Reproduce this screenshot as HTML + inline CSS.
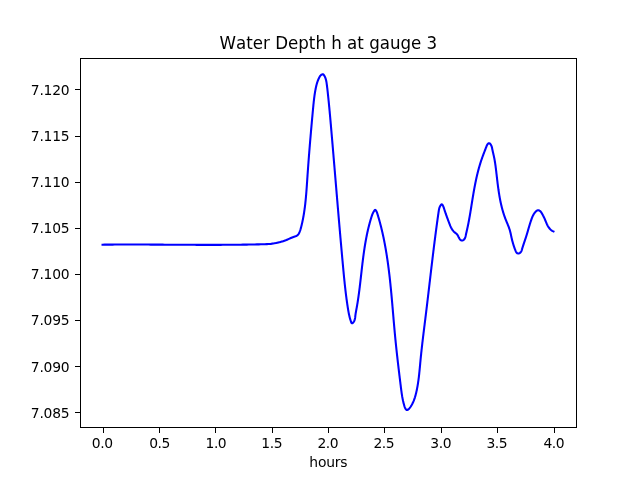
<!DOCTYPE html>
<html><head><meta charset="utf-8"><title>Water Depth h at gauge 3</title>
<style>html,body{margin:0;padding:0;background:#fff;overflow:hidden}svg{display:block}text{font-family:"DejaVu Sans","Liberation Sans",sans-serif;fill:#000}</style></head>
<body>
<svg width="640" height="480" viewBox="0 0 640 480">
<rect width="640" height="480" fill="#fff"/>
<clipPath id="c"><rect x="80" y="58" width="497" height="370"/></clipPath>
<path clip-path="url(#c)" d="M102.55 244.68 L104.55 244.66 L106.56 244.64 L108.56 244.62 L110.56 244.60 L112.57 244.59 L114.57 244.58 L116.57 244.57 L118.57 244.56 L120.58 244.55 L122.58 244.54 L124.58 244.54 L126.59 244.54 L128.59 244.53 L130.59 244.53 L132.60 244.53 L134.60 244.54 L136.60 244.54 L138.61 244.54 L140.61 244.55 L142.61 244.56 L144.62 244.56 L146.62 244.57 L148.62 244.58 L150.63 244.59 L152.63 244.60 L154.63 244.61 L156.64 244.62 L158.64 244.63 L160.64 244.64 L162.65 244.65 L164.65 244.67 L166.65 244.68 L168.66 244.69 L170.66 244.70 L172.66 244.72 L174.67 244.73 L176.67 244.74 L178.67 244.75 L180.68 244.76 L182.68 244.77 L184.68 244.79 L186.69 244.80 L188.69 244.81 L190.69 244.82 L192.70 244.82 L194.70 244.83 L196.71 244.84 L198.71 244.85 L200.71 244.85 L202.72 244.86 L204.72 244.86 L206.72 244.86 L208.72 244.86 L210.73 244.86 L212.73 244.86 L214.73 244.86 L216.74 244.86 L218.74 244.85 L220.74 244.84 L222.75 244.83 L224.75 244.82 L226.75 244.81 L228.76 244.80 L230.76 244.78 L232.76 244.77 L234.76 244.75 L236.77 244.73 L238.77 244.70 L240.77 244.68 L242.78 244.65 L244.78 244.62 L246.78 244.59 L248.78 244.55 L250.79 244.51 L252.79 244.47 L254.79 244.43 L256.79 244.39 L258.80 244.34 L260.80 244.29 L262.80 244.23 L264.80 244.18 L266.80 244.12 L268.81 244.06 L270.81 243.99 L271.49 243.71 L272.19 243.62 L272.88 243.52 L273.57 243.41 L274.26 243.30 L274.95 243.18 L275.64 243.06 L276.33 242.92 L277.02 242.78 L277.70 242.64 L278.39 242.48 L279.07 242.32 L279.75 242.15 L280.43 241.97 L281.10 241.78 L281.77 241.58 L282.44 241.38 L283.11 241.17 L283.78 240.95 L284.44 240.72 L285.09 240.48 L285.75 240.23 L286.40 239.98 L287.04 239.71 L287.69 239.44 L288.33 239.16 L288.96 238.87 L289.60 238.59 L290.24 238.30 L290.88 238.02 L291.52 237.74 L292.17 237.46 L292.83 237.20 L293.49 236.95 L294.16 236.72 L294.83 236.49 L295.50 236.26 L296.15 236.00 L296.77 235.71 L297.33 235.35 L297.84 234.91 L298.29 234.39 L298.69 233.81 L299.03 233.19 L299.35 232.55 L299.63 231.90 L299.89 231.24 L300.13 230.58 L300.35 229.91 L300.56 229.24 L300.75 228.57 L300.94 227.89 L301.11 227.21 L301.29 226.54 L301.46 225.86 L301.62 225.18 L301.78 224.50 L301.94 223.82 L302.10 223.13 L302.25 222.45 L302.40 221.77 L302.54 221.08 L302.68 220.40 L302.82 219.72 L302.96 219.03 L303.09 218.34 L303.22 217.66 L303.34 216.97 L303.47 216.28 L303.59 215.60 L303.71 214.91 L303.82 214.22 L303.93 213.53 L304.04 212.84 L304.15 212.15 L304.25 211.46 L304.35 210.77 L304.45 210.07 L304.55 209.38 L304.64 208.69 L304.74 208.00 L304.83 207.30 L304.92 206.61 L305.00 205.91 L305.09 205.22 L305.17 204.53 L305.25 203.83 L305.33 203.13 L305.40 202.44 L305.48 201.74 L305.55 201.05 L305.62 200.35 L305.69 199.65 L305.76 198.95 L305.82 198.26 L305.89 197.56 L305.95 196.86 L306.01 196.16 L306.08 195.46 L306.14 194.77 L306.19 194.07 L306.25 193.37 L306.31 192.67 L306.36 191.97 L306.42 191.27 L306.47 190.57 L306.52 189.87 L306.58 189.17 L306.63 188.47 L306.68 187.77 L306.73 187.07 L306.78 186.37 L306.83 185.67 L306.88 184.97 L306.92 184.27 L306.97 183.57 L307.02 182.87 L307.07 182.17 L307.12 181.47 L307.16 180.77 L307.21 180.07 L307.26 179.37 L307.30 178.67 L307.35 177.97 L307.40 177.27 L307.45 176.57 L307.49 175.87 L307.54 175.17 L307.59 174.47 L307.64 173.77 L307.69 173.07 L307.74 172.37 L307.79 171.67 L307.84 170.97 L307.89 170.28 L307.94 169.58 L307.99 168.88 L308.04 168.18 L308.09 167.48 L308.14 166.78 L308.19 166.08 L308.24 165.38 L308.29 164.69 L308.34 163.99 L308.40 163.29 L308.45 162.59 L308.50 161.89 L308.55 161.20 L308.61 160.50 L308.66 159.80 L308.71 159.10 L308.77 158.40 L308.82 157.71 L308.87 157.01 L308.93 156.31 L308.98 155.61 L309.04 154.91 L309.09 154.22 L309.15 153.52 L309.20 152.82 L309.26 152.12 L309.31 151.43 L309.37 150.73 L309.43 150.03 L309.48 149.33 L309.54 148.64 L309.60 147.94 L309.65 147.24 L309.71 146.55 L309.77 145.85 L309.82 145.15 L309.88 144.45 L309.94 143.76 L310.00 143.06 L310.06 142.36 L310.11 141.67 L310.17 140.97 L310.23 140.27 L310.29 139.57 L310.35 138.88 L310.41 138.18 L310.47 137.48 L310.53 136.79 L310.59 136.09 L310.65 135.39 L310.71 134.69 L310.77 134.00 L310.83 133.30 L310.89 132.60 L310.95 131.91 L311.01 131.21 L311.07 130.51 L311.13 129.82 L311.19 129.12 L311.26 128.42 L311.32 127.72 L311.38 127.03 L311.44 126.33 L311.50 125.63 L311.57 124.94 L311.63 124.24 L311.69 123.54 L311.75 122.84 L311.82 122.15 L311.88 121.45 L311.94 120.75 L312.01 120.05 L312.07 119.36 L312.13 118.66 L312.20 117.96 L312.26 117.26 L312.33 116.57 L312.39 115.87 L312.46 115.17 L312.52 114.47 L312.58 113.78 L312.65 113.08 L312.71 112.38 L312.78 111.68 L312.84 110.98 L312.91 110.29 L312.98 109.59 L313.04 108.89 L313.11 108.19 L313.17 107.49 L313.24 106.79 L313.31 106.10 L313.37 105.40 L313.44 104.70 L313.51 104.00 L313.59 103.30 L313.66 102.61 L313.73 101.91 L313.81 101.21 L313.89 100.52 L313.97 99.82 L314.05 99.12 L314.13 98.43 L314.22 97.73 L314.31 97.04 L314.40 96.34 L314.50 95.65 L314.60 94.96 L314.70 94.26 L314.80 93.57 L314.91 92.88 L315.03 92.19 L315.14 91.50 L315.26 90.81 L315.39 90.12 L315.52 89.44 L315.65 88.75 L315.79 88.07 L315.94 87.38 L316.09 86.70 L316.24 86.02 L316.41 85.34 L316.58 84.66 L316.76 83.99 L316.95 83.31 L317.16 82.65 L317.37 81.98 L317.60 81.32 L317.85 80.66 L318.10 80.01 L318.38 79.36 L318.67 78.72 L318.97 78.08 L319.30 77.45 L319.65 76.83 L320.02 76.22 L320.44 75.64 L320.94 75.12 L321.53 74.66 L322.20 74.34 L322.86 74.25 L323.40 74.50 L323.85 74.98 L324.24 75.57 L324.59 76.17 L324.91 76.80 L325.19 77.44 L325.44 78.09 L325.67 78.75 L325.87 79.42 L326.04 80.10 L326.20 80.79 L326.34 81.48 L326.47 82.18 L326.58 82.88 L326.68 83.59 L326.78 84.29 L326.87 85.00 L326.96 85.70 L327.05 86.40 L327.13 87.10 L327.22 87.80 L327.30 88.49 L327.38 89.19 L327.46 89.88 L327.54 90.57 L327.61 91.27 L327.69 91.96 L327.77 92.65 L327.84 93.35 L327.92 94.04 L327.99 94.73 L328.06 95.43 L328.14 96.12 L328.21 96.82 L328.28 97.51 L328.35 98.21 L328.43 98.90 L328.50 99.60 L328.57 100.29 L328.64 100.99 L328.71 101.68 L328.78 102.38 L328.85 103.07 L328.91 103.77 L328.98 104.47 L329.05 105.16 L329.12 105.86 L329.18 106.56 L329.25 107.25 L329.32 107.95 L329.38 108.65 L329.45 109.34 L329.52 110.04 L329.58 110.74 L329.65 111.44 L329.71 112.13 L329.77 112.83 L329.84 113.53 L329.90 114.23 L329.97 114.92 L330.03 115.62 L330.09 116.32 L330.16 117.02 L330.22 117.72 L330.28 118.41 L330.34 119.11 L330.41 119.81 L330.47 120.51 L330.53 121.21 L330.59 121.90 L330.65 122.60 L330.71 123.30 L330.78 124.00 L330.84 124.70 L330.90 125.40 L330.96 126.10 L331.02 126.79 L331.08 127.49 L331.14 128.19 L331.20 128.89 L331.26 129.59 L331.32 130.29 L331.38 130.98 L331.44 131.68 L331.50 132.38 L331.56 133.08 L331.62 133.78 L331.68 134.48 L331.74 135.17 L331.80 135.87 L331.86 136.57 L331.92 137.27 L331.98 137.97 L332.04 138.67 L332.10 139.36 L332.16 140.06 L332.22 140.76 L332.28 141.46 L332.34 142.16 L332.40 142.85 L332.46 143.55 L332.52 144.25 L332.58 144.95 L332.64 145.65 L332.70 146.34 L332.76 147.04 L332.82 147.74 L332.88 148.44 L332.93 149.14 L332.99 149.83 L333.05 150.53 L333.11 151.23 L333.17 151.93 L333.23 152.63 L333.29 153.32 L333.35 154.02 L333.41 154.72 L333.47 155.42 L333.53 156.12 L333.58 156.81 L333.64 157.51 L333.70 158.21 L333.76 158.91 L333.82 159.60 L333.88 160.30 L333.94 161.00 L334.00 161.70 L334.06 162.40 L334.11 163.09 L334.17 163.79 L334.23 164.49 L334.29 165.19 L334.35 165.88 L334.41 166.58 L334.47 167.28 L334.52 167.98 L334.58 168.67 L334.64 169.37 L334.70 170.07 L334.76 170.77 L334.82 171.46 L334.88 172.16 L334.93 172.86 L334.99 173.56 L335.05 174.26 L335.11 174.95 L335.17 175.65 L335.23 176.35 L335.29 177.05 L335.34 177.74 L335.40 178.44 L335.46 179.14 L335.52 179.84 L335.58 180.53 L335.64 181.23 L335.70 181.93 L335.75 182.63 L335.81 183.32 L335.87 184.02 L335.93 184.72 L335.99 185.42 L336.05 186.11 L336.11 186.81 L336.16 187.51 L336.22 188.21 L336.28 188.90 L336.34 189.60 L336.40 190.30 L336.46 191.00 L336.52 191.69 L336.57 192.39 L336.63 193.09 L336.69 193.79 L336.75 194.48 L336.81 195.18 L336.87 195.88 L336.93 196.58 L336.99 197.27 L337.04 197.97 L337.10 198.67 L337.16 199.37 L337.22 200.06 L337.28 200.76 L337.34 201.46 L337.40 202.16 L337.46 202.85 L337.52 203.55 L337.57 204.25 L337.63 204.94 L337.69 205.64 L337.75 206.34 L337.81 207.04 L337.87 207.73 L337.93 208.43 L337.99 209.13 L338.05 209.83 L338.11 210.52 L338.17 211.22 L338.23 211.92 L338.29 212.62 L338.34 213.32 L338.40 214.01 L338.46 214.71 L338.52 215.41 L338.58 216.11 L338.64 216.80 L338.70 217.50 L338.76 218.20 L338.82 218.90 L338.88 219.59 L338.94 220.29 L339.00 220.99 L339.06 221.69 L339.12 222.38 L339.18 223.08 L339.24 223.78 L339.30 224.48 L339.36 225.17 L339.42 225.87 L339.48 226.57 L339.54 227.27 L339.60 227.96 L339.66 228.66 L339.72 229.36 L339.78 230.06 L339.84 230.76 L339.91 231.45 L339.97 232.15 L340.03 232.85 L340.09 233.55 L340.15 234.24 L340.21 234.94 L340.27 235.64 L340.33 236.34 L340.39 237.04 L340.45 237.73 L340.52 238.43 L340.58 239.13 L340.64 239.83 L340.70 240.53 L340.76 241.22 L340.82 241.92 L340.88 242.62 L340.95 243.32 L341.01 244.01 L341.07 244.71 L341.13 245.41 L341.19 246.11 L341.26 246.81 L341.32 247.50 L341.38 248.20 L341.44 248.90 L341.50 249.60 L341.57 250.30 L341.63 251.00 L341.69 251.69 L341.76 252.39 L341.82 253.09 L341.88 253.79 L341.94 254.49 L342.01 255.18 L342.07 255.88 L342.13 256.58 L342.20 257.28 L342.26 257.98 L342.32 258.68 L342.39 259.37 L342.45 260.07 L342.51 260.77 L342.58 261.47 L342.64 262.17 L342.71 262.87 L342.77 263.56 L342.83 264.26 L342.90 264.96 L342.96 265.66 L343.03 266.36 L343.09 267.06 L343.16 267.76 L343.22 268.45 L343.29 269.15 L343.35 269.85 L343.42 270.55 L343.48 271.25 L343.55 271.95 L343.62 272.64 L343.68 273.34 L343.75 274.04 L343.82 274.74 L343.88 275.44 L343.95 276.14 L344.02 276.83 L344.09 277.53 L344.16 278.23 L344.23 278.93 L344.30 279.62 L344.37 280.32 L344.44 281.02 L344.51 281.71 L344.59 282.41 L344.66 283.11 L344.73 283.80 L344.81 284.50 L344.88 285.20 L344.96 285.89 L345.04 286.59 L345.11 287.28 L345.19 287.98 L345.27 288.67 L345.35 289.37 L345.43 290.06 L345.51 290.76 L345.59 291.45 L345.67 292.15 L345.76 292.84 L345.84 293.53 L345.93 294.23 L346.01 294.92 L346.10 295.61 L346.19 296.30 L346.28 296.99 L346.37 297.69 L346.46 298.38 L346.55 299.07 L346.65 299.76 L346.74 300.45 L346.84 301.14 L346.93 301.83 L347.03 302.52 L347.13 303.20 L347.23 303.89 L347.33 304.58 L347.44 305.27 L347.54 305.95 L347.64 306.64 L347.75 307.33 L347.86 308.01 L347.97 308.70 L348.08 309.38 L348.19 310.07 L348.31 310.75 L348.43 311.44 L348.56 312.13 L348.69 312.82 L348.82 313.51 L348.96 314.20 L349.11 314.89 L349.27 315.59 L349.43 316.29 L349.60 316.99 L349.78 317.69 L349.97 318.40 L350.17 319.11 L350.38 319.82 L350.60 320.54 L350.84 321.27 L351.08 321.98 L351.36 322.62 L351.68 323.10 L352.06 323.31 L352.51 323.18 L353.01 322.77 L353.51 322.16 L353.97 321.44 L354.34 320.71 L354.63 320.00 L354.84 319.31 L354.99 318.62 L355.10 317.94 L355.19 317.27 L355.26 316.60 L355.33 315.92 L355.41 315.25 L355.50 314.57 L355.60 313.88 L355.71 313.20 L355.83 312.51 L355.95 311.82 L356.07 311.13 L356.20 310.43 L356.32 309.74 L356.45 309.05 L356.58 308.35 L356.71 307.66 L356.83 306.96 L356.95 306.27 L357.08 305.57 L357.19 304.88 L357.31 304.19 L357.43 303.49 L357.54 302.80 L357.65 302.11 L357.76 301.41 L357.87 300.72 L357.98 300.03 L358.08 299.34 L358.18 298.64 L358.29 297.95 L358.39 297.26 L358.48 296.57 L358.58 295.88 L358.68 295.18 L358.77 294.49 L358.87 293.80 L358.96 293.11 L359.05 292.41 L359.14 291.72 L359.23 291.03 L359.32 290.33 L359.41 289.64 L359.50 288.95 L359.58 288.25 L359.67 287.56 L359.75 286.87 L359.84 286.17 L359.92 285.48 L360.00 284.78 L360.08 284.09 L360.17 283.39 L360.25 282.70 L360.33 282.00 L360.41 281.31 L360.49 280.61 L360.57 279.92 L360.65 279.22 L360.73 278.52 L360.81 277.83 L360.88 277.13 L360.96 276.43 L361.04 275.74 L361.12 275.04 L361.20 274.35 L361.28 273.65 L361.36 272.95 L361.44 272.26 L361.51 271.56 L361.59 270.86 L361.67 270.16 L361.75 269.47 L361.83 268.77 L361.91 268.07 L361.99 267.38 L362.07 266.68 L362.15 265.98 L362.24 265.29 L362.32 264.59 L362.40 263.90 L362.48 263.20 L362.57 262.50 L362.65 261.81 L362.74 261.11 L362.83 260.41 L362.91 259.72 L363.00 259.02 L363.09 258.33 L363.18 257.63 L363.27 256.94 L363.36 256.24 L363.45 255.55 L363.55 254.85 L363.64 254.16 L363.74 253.46 L363.83 252.77 L363.93 252.08 L364.03 251.38 L364.13 250.69 L364.23 250.00 L364.34 249.30 L364.44 248.61 L364.55 247.92 L364.65 247.23 L364.76 246.53 L364.87 245.84 L364.98 245.15 L365.10 244.46 L365.21 243.77 L365.33 243.08 L365.45 242.39 L365.57 241.70 L365.69 241.01 L365.82 240.32 L365.94 239.64 L366.07 238.95 L366.20 238.26 L366.33 237.57 L366.47 236.89 L366.60 236.20 L366.74 235.52 L366.88 234.83 L367.02 234.15 L367.17 233.46 L367.31 232.78 L367.46 232.09 L367.61 231.41 L367.77 230.73 L367.92 230.05 L368.08 229.37 L368.24 228.69 L368.41 228.00 L368.57 227.33 L368.74 226.65 L368.92 225.97 L369.09 225.29 L369.27 224.61 L369.45 223.94 L369.63 223.26 L369.81 222.58 L370.00 221.91 L370.19 221.23 L370.39 220.56 L370.58 219.89 L370.78 219.22 L370.99 218.54 L371.19 217.87 L371.40 217.20 L371.61 216.53 L371.83 215.87 L372.06 215.20 L372.30 214.54 L372.56 213.89 L372.85 213.24 L373.16 212.61 L373.49 211.98 L373.87 211.37 L374.28 210.77 L374.73 210.21 L375.19 209.89 L375.63 210.03 L376.03 210.53 L376.38 211.16 L376.69 211.82 L376.95 212.48 L377.19 213.15 L377.40 213.82 L377.61 214.49 L377.82 215.16 L378.02 215.84 L378.22 216.51 L378.42 217.18 L378.62 217.86 L378.82 218.53 L379.01 219.21 L379.20 219.89 L379.39 220.56 L379.58 221.24 L379.76 221.92 L379.95 222.59 L380.13 223.27 L380.31 223.95 L380.48 224.63 L380.66 225.31 L380.83 225.99 L381.01 226.67 L381.18 227.35 L381.34 228.03 L381.51 228.71 L381.68 229.39 L381.84 230.07 L382.00 230.76 L382.16 231.44 L382.32 232.12 L382.47 232.80 L382.63 233.49 L382.78 234.17 L382.93 234.86 L383.08 235.54 L383.23 236.22 L383.37 236.91 L383.52 237.59 L383.66 238.28 L383.80 238.97 L383.94 239.65 L384.08 240.34 L384.22 241.02 L384.35 241.71 L384.48 242.40 L384.62 243.09 L384.75 243.77 L384.88 244.46 L385.01 245.15 L385.13 245.84 L385.26 246.52 L385.38 247.21 L385.50 247.90 L385.63 248.59 L385.75 249.28 L385.86 249.97 L385.98 250.66 L386.10 251.35 L386.21 252.04 L386.33 252.73 L386.44 253.42 L386.55 254.11 L386.66 254.80 L386.77 255.49 L386.88 256.18 L386.98 256.87 L387.09 257.56 L387.19 258.26 L387.30 258.95 L387.40 259.64 L387.50 260.33 L387.60 261.02 L387.70 261.72 L387.80 262.41 L387.89 263.10 L387.99 263.79 L388.08 264.49 L388.18 265.18 L388.27 265.87 L388.36 266.57 L388.45 267.26 L388.54 267.95 L388.63 268.65 L388.72 269.34 L388.81 270.04 L388.89 270.73 L388.98 271.43 L389.07 272.12 L389.15 272.81 L389.23 273.51 L389.31 274.20 L389.40 274.90 L389.48 275.59 L389.56 276.29 L389.64 276.99 L389.71 277.68 L389.79 278.38 L389.87 279.07 L389.95 279.77 L390.02 280.46 L390.10 281.16 L390.17 281.86 L390.24 282.55 L390.32 283.25 L390.39 283.95 L390.46 284.64 L390.53 285.34 L390.60 286.04 L390.67 286.73 L390.74 287.43 L390.81 288.13 L390.88 288.82 L390.95 289.52 L391.02 290.22 L391.08 290.91 L391.15 291.61 L391.22 292.31 L391.28 293.01 L391.35 293.70 L391.41 294.40 L391.48 295.10 L391.54 295.80 L391.61 296.50 L391.67 297.19 L391.73 297.89 L391.80 298.59 L391.86 299.29 L391.92 299.99 L391.98 300.68 L392.04 301.38 L392.11 302.08 L392.17 302.78 L392.23 303.48 L392.29 304.17 L392.35 304.87 L392.41 305.57 L392.47 306.27 L392.53 306.97 L392.59 307.67 L392.65 308.36 L392.71 309.06 L392.77 309.76 L392.83 310.46 L392.89 311.16 L392.95 311.86 L393.01 312.56 L393.07 313.25 L393.13 313.95 L393.19 314.65 L393.25 315.35 L393.31 316.05 L393.37 316.75 L393.43 317.44 L393.48 318.14 L393.54 318.84 L393.60 319.54 L393.66 320.24 L393.72 320.94 L393.78 321.63 L393.85 322.33 L393.91 323.03 L393.97 323.73 L394.03 324.43 L394.09 325.13 L394.15 325.82 L394.21 326.52 L394.27 327.22 L394.34 327.92 L394.40 328.62 L394.46 329.31 L394.52 330.01 L394.59 330.71 L394.65 331.41 L394.72 332.11 L394.78 332.80 L394.85 333.50 L394.91 334.20 L394.98 334.90 L395.04 335.59 L395.11 336.29 L395.18 336.99 L395.24 337.69 L395.31 338.38 L395.38 339.08 L395.45 339.78 L395.52 340.47 L395.59 341.17 L395.66 341.87 L395.73 342.56 L395.80 343.26 L395.87 343.96 L395.94 344.65 L396.01 345.35 L396.09 346.05 L396.16 346.74 L396.23 347.44 L396.31 348.14 L396.38 348.83 L396.46 349.53 L396.53 350.23 L396.61 350.92 L396.68 351.62 L396.76 352.31 L396.83 353.01 L396.91 353.70 L396.99 354.40 L397.06 355.10 L397.14 355.79 L397.22 356.49 L397.30 357.18 L397.38 357.88 L397.46 358.57 L397.53 359.27 L397.61 359.97 L397.69 360.66 L397.77 361.36 L397.85 362.05 L397.93 362.75 L398.01 363.44 L398.10 364.14 L398.18 364.83 L398.26 365.53 L398.34 366.22 L398.42 366.92 L398.50 367.61 L398.59 368.31 L398.67 369.00 L398.75 369.70 L398.83 370.39 L398.92 371.09 L399.00 371.78 L399.08 372.48 L399.17 373.17 L399.25 373.87 L399.34 374.56 L399.42 375.26 L399.50 375.95 L399.59 376.64 L399.67 377.34 L399.76 378.03 L399.84 378.73 L399.93 379.42 L400.01 380.12 L400.10 380.81 L400.18 381.51 L400.27 382.20 L400.35 382.90 L400.44 383.59 L400.53 384.29 L400.61 384.98 L400.70 385.67 L400.78 386.37 L400.87 387.06 L400.96 387.76 L401.04 388.45 L401.13 389.15 L401.22 389.84 L401.31 390.53 L401.40 391.23 L401.50 391.92 L401.59 392.61 L401.69 393.31 L401.80 394.00 L401.90 394.69 L402.01 395.38 L402.13 396.07 L402.24 396.76 L402.37 397.45 L402.49 398.14 L402.62 398.83 L402.76 399.52 L402.91 400.21 L403.05 400.89 L403.21 401.58 L403.37 402.26 L403.54 402.95 L403.72 403.63 L403.90 404.31 L404.09 404.99 L404.29 405.67 L404.50 406.35 L404.72 407.03 L404.96 407.70 L405.24 408.35 L405.60 408.97 L406.05 409.53 L406.58 409.95 L407.16 410.06 L407.73 409.83 L408.29 409.41 L408.81 408.93 L409.29 408.42 L409.75 407.88 L410.18 407.32 L410.59 406.74 L410.98 406.15 L411.35 405.55 L411.71 404.94 L412.05 404.33 L412.38 403.71 L412.69 403.09 L412.99 402.46 L413.28 401.82 L413.56 401.18 L413.82 400.53 L414.07 399.88 L414.31 399.22 L414.54 398.56 L414.76 397.90 L414.98 397.23 L415.18 396.56 L415.37 395.88 L415.56 395.21 L415.74 394.53 L415.91 393.85 L416.08 393.17 L416.24 392.48 L416.40 391.80 L416.55 391.12 L416.70 390.43 L416.84 389.74 L416.98 389.06 L417.11 388.37 L417.24 387.68 L417.37 386.99 L417.49 386.31 L417.61 385.62 L417.73 384.93 L417.84 384.24 L417.95 383.55 L418.06 382.85 L418.16 382.16 L418.26 381.47 L418.36 380.78 L418.45 380.09 L418.54 379.39 L418.63 378.70 L418.72 378.01 L418.81 377.31 L418.89 376.62 L418.97 375.92 L419.05 375.23 L419.13 374.53 L419.20 373.84 L419.28 373.14 L419.35 372.45 L419.42 371.75 L419.49 371.05 L419.56 370.36 L419.63 369.66 L419.70 368.96 L419.76 368.27 L419.83 367.57 L419.89 366.87 L419.96 366.18 L420.02 365.48 L420.09 364.78 L420.15 364.08 L420.22 363.39 L420.28 362.69 L420.35 361.99 L420.41 361.29 L420.48 360.60 L420.55 359.90 L420.61 359.20 L420.68 358.50 L420.75 357.81 L420.82 357.11 L420.89 356.41 L420.96 355.71 L421.04 355.02 L421.11 354.32 L421.18 353.62 L421.25 352.93 L421.33 352.23 L421.40 351.53 L421.48 350.84 L421.55 350.14 L421.63 349.44 L421.71 348.75 L421.79 348.05 L421.86 347.35 L421.94 346.66 L422.02 345.96 L422.10 345.26 L422.18 344.57 L422.26 343.87 L422.34 343.17 L422.42 342.48 L422.50 341.78 L422.59 341.08 L422.67 340.39 L422.75 339.69 L422.83 339.00 L422.92 338.30 L423.00 337.60 L423.08 336.91 L423.17 336.21 L423.25 335.52 L423.34 334.82 L423.42 334.12 L423.51 333.43 L423.59 332.73 L423.68 332.04 L423.76 331.34 L423.85 330.64 L423.93 329.95 L424.02 329.25 L424.11 328.56 L424.19 327.86 L424.28 327.17 L424.37 326.47 L424.45 325.78 L424.54 325.08 L424.63 324.38 L424.71 323.69 L424.80 322.99 L424.89 322.30 L424.97 321.60 L425.06 320.91 L425.15 320.21 L425.23 319.52 L425.32 318.82 L425.40 318.13 L425.49 317.43 L425.58 316.74 L425.66 316.04 L425.75 315.35 L425.83 314.65 L425.92 313.96 L426.00 313.26 L426.09 312.57 L426.17 311.87 L426.26 311.18 L426.34 310.48 L426.43 309.79 L426.51 309.09 L426.60 308.40 L426.68 307.70 L426.76 307.01 L426.85 306.31 L426.93 305.62 L427.01 304.92 L427.10 304.23 L427.18 303.53 L427.26 302.84 L427.35 302.14 L427.43 301.45 L427.51 300.75 L427.60 300.06 L427.68 299.36 L427.76 298.67 L427.84 297.97 L427.93 297.28 L428.01 296.58 L428.09 295.89 L428.17 295.20 L428.25 294.50 L428.34 293.81 L428.42 293.11 L428.50 292.42 L428.58 291.72 L428.66 291.03 L428.75 290.33 L428.83 289.64 L428.91 288.94 L428.99 288.25 L429.07 287.55 L429.15 286.86 L429.24 286.17 L429.32 285.47 L429.40 284.78 L429.48 284.08 L429.56 283.39 L429.64 282.69 L429.72 282.00 L429.81 281.30 L429.89 280.61 L429.97 279.91 L430.05 279.22 L430.13 278.52 L430.21 277.83 L430.30 277.13 L430.38 276.44 L430.46 275.75 L430.54 275.05 L430.62 274.36 L430.70 273.66 L430.79 272.97 L430.87 272.27 L430.95 271.58 L431.03 270.88 L431.11 270.19 L431.20 269.49 L431.28 268.80 L431.36 268.10 L431.44 267.41 L431.53 266.71 L431.61 266.02 L431.69 265.32 L431.77 264.63 L431.86 263.93 L431.94 263.24 L432.02 262.54 L432.11 261.85 L432.19 261.15 L432.27 260.46 L432.36 259.76 L432.44 259.07 L432.52 258.37 L432.61 257.68 L432.69 256.98 L432.78 256.29 L432.86 255.59 L432.94 254.90 L433.03 254.20 L433.11 253.51 L433.20 252.81 L433.28 252.12 L433.37 251.42 L433.45 250.73 L433.54 250.03 L433.63 249.34 L433.71 248.64 L433.80 247.95 L433.88 247.25 L433.97 246.55 L434.06 245.86 L434.14 245.16 L434.23 244.47 L434.32 243.77 L434.41 243.08 L434.49 242.38 L434.58 241.69 L434.67 240.99 L434.76 240.29 L434.85 239.60 L434.94 238.90 L435.03 238.21 L435.12 237.51 L435.21 236.81 L435.29 236.12 L435.39 235.42 L435.48 234.73 L435.57 234.03 L435.66 233.33 L435.75 232.64 L435.84 231.94 L435.93 231.24 L436.02 230.55 L436.12 229.85 L436.21 229.16 L436.30 228.46 L436.39 227.76 L436.49 227.07 L436.58 226.37 L436.68 225.67 L436.77 224.98 L436.87 224.28 L436.96 223.58 L437.06 222.88 L437.15 222.19 L437.25 221.49 L437.34 220.79 L437.44 220.10 L437.54 219.40 L437.63 218.70 L437.73 218.00 L437.83 217.31 L437.93 216.61 L438.03 215.91 L438.13 215.22 L438.23 214.52 L438.33 213.82 L438.43 213.12 L438.53 212.42 L438.63 211.73 L438.73 211.03 L438.84 210.34 L438.97 209.65 L439.11 208.97 L439.28 208.30 L439.48 207.65 L439.72 207.01 L440.00 206.39 L440.33 205.80 L440.71 205.23 L441.16 204.69 L441.64 204.35 L442.12 204.47 L442.57 204.97 L442.95 205.64 L443.27 206.33 L443.54 207.01 L443.77 207.69 L443.99 208.37 L444.20 209.05 L444.42 209.73 L444.64 210.40 L444.87 211.07 L445.09 211.74 L445.32 212.40 L445.55 213.07 L445.77 213.73 L446.01 214.39 L446.24 215.05 L446.47 215.71 L446.71 216.36 L446.95 217.02 L447.18 217.67 L447.42 218.33 L447.66 218.98 L447.91 219.64 L448.15 220.29 L448.39 220.95 L448.64 221.60 L448.88 222.26 L449.13 222.91 L449.38 223.57 L449.63 224.23 L449.89 224.88 L450.15 225.53 L450.42 226.17 L450.71 226.81 L451.01 227.44 L451.33 228.05 L451.66 228.66 L452.02 229.25 L452.41 229.82 L452.81 230.38 L453.25 230.91 L453.72 231.43 L454.22 231.92 L454.76 232.38 L455.32 232.84 L455.87 233.29 L456.41 233.74 L456.91 234.22 L457.36 234.74 L457.73 235.29 L458.06 235.89 L458.35 236.52 L458.65 237.18 L458.98 237.86 L459.36 238.53 L459.79 239.17 L460.27 239.72 L460.80 240.17 L461.38 240.45 L461.99 240.55 L462.64 240.43 L463.28 240.15 L463.84 239.74 L464.32 239.24 L464.70 238.67 L465.01 238.05 L465.26 237.38 L465.46 236.68 L465.64 235.96 L465.80 235.23 L465.96 234.51 L466.11 233.80 L466.27 233.10 L466.43 232.40 L466.59 231.71 L466.75 231.02 L466.90 230.34 L467.06 229.66 L467.21 228.98 L467.36 228.30 L467.51 227.62 L467.66 226.94 L467.80 226.26 L467.94 225.58 L468.08 224.90 L468.22 224.21 L468.36 223.53 L468.49 222.85 L468.62 222.17 L468.75 221.48 L468.88 220.80 L469.01 220.11 L469.14 219.43 L469.26 218.74 L469.39 218.06 L469.51 217.37 L469.63 216.68 L469.75 216.00 L469.87 215.31 L469.98 214.62 L470.10 213.93 L470.22 213.24 L470.33 212.55 L470.44 211.86 L470.56 211.18 L470.67 210.49 L470.78 209.80 L470.89 209.11 L471.01 208.41 L471.12 207.72 L471.23 207.03 L471.34 206.34 L471.45 205.65 L471.56 204.96 L471.67 204.27 L471.78 203.57 L471.89 202.88 L472.00 202.19 L472.11 201.50 L472.22 200.80 L472.34 200.11 L472.45 199.42 L472.56 198.72 L472.68 198.03 L472.79 197.34 L472.90 196.64 L473.02 195.95 L473.14 195.26 L473.25 194.56 L473.37 193.87 L473.49 193.18 L473.61 192.49 L473.73 191.79 L473.85 191.10 L473.98 190.41 L474.10 189.72 L474.23 189.02 L474.35 188.33 L474.48 187.64 L474.61 186.95 L474.74 186.26 L474.87 185.57 L475.01 184.88 L475.14 184.19 L475.28 183.50 L475.42 182.81 L475.56 182.13 L475.70 181.44 L475.84 180.75 L475.99 180.07 L476.13 179.38 L476.28 178.70 L476.43 178.01 L476.59 177.33 L476.74 176.65 L476.90 175.96 L477.06 175.28 L477.22 174.60 L477.39 173.92 L477.55 173.24 L477.72 172.57 L477.89 171.89 L478.06 171.21 L478.24 170.54 L478.42 169.86 L478.60 169.19 L478.78 168.52 L478.97 167.84 L479.16 167.17 L479.35 166.51 L479.55 165.84 L479.74 165.17 L479.95 164.50 L480.15 163.84 L480.36 163.18 L480.57 162.51 L480.78 161.85 L480.99 161.19 L481.21 160.53 L481.44 159.88 L481.66 159.22 L481.89 158.57 L482.12 157.91 L482.36 157.26 L482.60 156.60 L482.84 155.95 L483.08 155.29 L483.32 154.64 L483.57 153.98 L483.82 153.32 L484.07 152.66 L484.32 152.00 L484.58 151.33 L484.83 150.67 L485.09 150.00 L485.35 149.32 L485.61 148.64 L485.87 147.96 L486.13 147.28 L486.40 146.59 L486.67 145.91 L486.96 145.25 L487.28 144.65 L487.65 144.11 L488.07 143.65 L488.55 143.30 L489.09 143.17 L489.65 143.39 L490.19 143.85 L490.67 144.46 L491.07 145.11 L491.39 145.77 L491.65 146.44 L491.85 147.12 L492.02 147.81 L492.16 148.50 L492.29 149.19 L492.43 149.88 L492.58 150.57 L492.73 151.26 L492.89 151.95 L493.04 152.63 L493.20 153.32 L493.36 154.00 L493.52 154.68 L493.68 155.37 L493.83 156.05 L493.98 156.74 L494.12 157.42 L494.26 158.11 L494.39 158.79 L494.52 159.48 L494.64 160.17 L494.76 160.86 L494.87 161.54 L494.98 162.23 L495.09 162.92 L495.20 163.61 L495.30 164.30 L495.40 164.99 L495.49 165.68 L495.59 166.38 L495.68 167.07 L495.77 167.76 L495.86 168.45 L495.94 169.14 L496.03 169.84 L496.11 170.53 L496.19 171.23 L496.27 171.92 L496.35 172.62 L496.44 173.31 L496.52 174.01 L496.60 174.70 L496.68 175.40 L496.76 176.09 L496.84 176.79 L496.92 177.49 L497.00 178.18 L497.08 178.88 L497.16 179.58 L497.24 180.28 L497.33 180.97 L497.41 181.67 L497.50 182.37 L497.58 183.07 L497.67 183.76 L497.76 184.46 L497.84 185.16 L497.93 185.86 L498.03 186.55 L498.12 187.25 L498.21 187.94 L498.31 188.64 L498.41 189.34 L498.50 190.03 L498.61 190.73 L498.71 191.42 L498.81 192.12 L498.92 192.81 L499.03 193.50 L499.14 194.20 L499.25 194.89 L499.37 195.58 L499.49 196.27 L499.61 196.96 L499.73 197.65 L499.86 198.34 L499.99 199.03 L500.12 199.71 L500.25 200.40 L500.39 201.09 L500.53 201.77 L500.68 202.46 L500.82 203.14 L500.97 203.82 L501.13 204.50 L501.29 205.18 L501.45 205.86 L501.61 206.54 L501.78 207.22 L501.95 207.89 L502.13 208.57 L502.31 209.24 L502.49 209.91 L502.68 210.59 L502.88 211.25 L503.07 211.92 L503.28 212.59 L503.48 213.26 L503.69 213.92 L503.91 214.58 L504.13 215.25 L504.35 215.91 L504.58 216.56 L504.82 217.22 L505.06 217.88 L505.30 218.53 L505.55 219.18 L505.81 219.83 L506.07 220.48 L506.34 221.13 L506.60 221.78 L506.87 222.43 L507.14 223.07 L507.41 223.72 L507.68 224.37 L507.94 225.02 L508.20 225.67 L508.46 226.33 L508.71 226.98 L508.96 227.65 L509.19 228.31 L509.42 228.98 L509.64 229.65 L509.84 230.33 L510.04 231.01 L510.22 231.70 L510.39 232.39 L510.55 233.08 L510.71 233.78 L510.86 234.47 L511.00 235.16 L511.15 235.85 L511.29 236.54 L511.44 237.21 L511.59 237.89 L511.74 238.55 L511.90 239.22 L512.06 239.88 L512.22 240.53 L512.39 241.19 L512.57 241.85 L512.75 242.50 L512.94 243.16 L513.13 243.82 L513.33 244.48 L513.54 245.14 L513.76 245.81 L513.98 246.48 L514.21 247.17 L514.45 247.85 L514.70 248.55 L514.96 249.26 L515.23 249.97 L515.51 250.69 L515.81 251.38 L516.14 252.02 L516.52 252.59 L516.95 253.04 L517.44 253.36 L518.00 253.51 L518.64 253.47 L519.31 253.25 L519.97 252.89 L520.53 252.42 L520.97 251.85 L521.32 251.23 L521.60 250.56 L521.83 249.86 L522.04 249.16 L522.24 248.47 L522.45 247.80 L522.66 247.12 L522.87 246.46 L523.09 245.80 L523.30 245.14 L523.52 244.49 L523.73 243.84 L523.95 243.18 L524.18 242.52 L524.40 241.86 L524.63 241.20 L524.85 240.54 L525.07 239.87 L525.30 239.21 L525.52 238.54 L525.74 237.87 L525.95 237.20 L526.17 236.54 L526.38 235.87 L526.58 235.19 L526.79 234.52 L526.99 233.85 L527.19 233.18 L527.39 232.51 L527.59 231.84 L527.78 231.16 L527.98 230.49 L528.17 229.82 L528.37 229.15 L528.57 228.48 L528.76 227.80 L528.96 227.13 L529.16 226.46 L529.36 225.79 L529.56 225.12 L529.76 224.45 L529.97 223.78 L530.18 223.12 L530.39 222.45 L530.61 221.78 L530.83 221.12 L531.06 220.46 L531.29 219.79 L531.52 219.13 L531.76 218.47 L532.01 217.82 L532.27 217.17 L532.55 216.53 L532.85 215.89 L533.16 215.27 L533.49 214.65 L533.85 214.05 L534.23 213.46 L534.65 212.89 L535.09 212.33 L535.57 211.79 L536.08 211.28 L536.63 210.82 L537.21 210.47 L537.84 210.28 L538.50 210.30 L539.17 210.51 L539.80 210.87 L540.35 211.31 L540.83 211.82 L541.26 212.38 L541.65 212.99 L542.01 213.61 L542.35 214.24 L542.69 214.85 L543.01 215.47 L543.34 216.07 L543.65 216.68 L543.96 217.30 L544.25 217.91 L544.54 218.54 L544.82 219.18 L545.09 219.83 L545.36 220.49 L545.63 221.14 L545.90 221.80 L546.18 222.46 L546.46 223.12 L546.74 223.77 L547.04 224.42 L547.35 225.05 L547.67 225.68 L548.01 226.29 L548.37 226.88 L548.75 227.46 L549.15 228.02 L549.58 228.55 L550.04 229.06 L550.52 229.54 L551.04 230.00 L551.60 230.42 L552.19 230.81 L552.82 231.16 L553.49 231.48" fill="none" stroke="#0000ff" stroke-width="2.08" stroke-linejoin="round" stroke-linecap="square"/>
<g stroke="#000" stroke-width="1.1" fill="none" shape-rendering="crispEdges">
<line x1="103.5" y1="427.5" x2="103.5" y2="432.9"/>
<line x1="159.5" y1="427.5" x2="159.5" y2="432.9"/>
<line x1="215.5" y1="427.5" x2="215.5" y2="432.9"/>
<line x1="272.5" y1="427.5" x2="272.5" y2="432.9"/>
<line x1="328.5" y1="427.5" x2="328.5" y2="432.9"/>
<line x1="384.5" y1="427.5" x2="384.5" y2="432.9"/>
<line x1="441.5" y1="427.5" x2="441.5" y2="432.9"/>
<line x1="497.5" y1="427.5" x2="497.5" y2="432.9"/>
<line x1="554.5" y1="427.5" x2="554.5" y2="432.9"/>
<line x1="75.1" y1="412.5" x2="80.5" y2="412.5"/>
<line x1="75.1" y1="366.5" x2="80.5" y2="366.5"/>
<line x1="75.1" y1="320.5" x2="80.5" y2="320.5"/>
<line x1="75.1" y1="274.5" x2="80.5" y2="274.5"/>
<line x1="75.1" y1="228.5" x2="80.5" y2="228.5"/>
<line x1="75.1" y1="182.5" x2="80.5" y2="182.5"/>
<line x1="75.1" y1="136.5" x2="80.5" y2="136.5"/>
<line x1="75.1" y1="89.5" x2="80.5" y2="89.5"/>
</g>
<rect x="80.5" y="58.5" width="496" height="369" fill="none" stroke="#000" stroke-width="1.1" shape-rendering="crispEdges"/>
<g font-size="13.89px" text-anchor="middle" letter-spacing="-0.45">
<text x="102.20" y="447.8">0.0</text>
<text x="159.50" y="447.8">0.5</text>
<text x="215.90" y="447.8">1.0</text>
<text x="271.70" y="447.8">1.5</text>
<text x="327.80" y="447.8">2.0</text>
<text x="383.80" y="447.8">2.5</text>
<text x="440.70" y="447.8">3.0</text>
<text x="496.80" y="447.8">3.5</text>
<text x="553.80" y="447.8">4.0</text>
<text x="328.3" y="467.3" letter-spacing="-0.2">hours</text>
</g>
<g font-size="13.89px" text-anchor="end" letter-spacing="-0.24">
<text x="69.4" y="417.8">7.085</text>
<text x="69.4" y="371.8">7.090</text>
<text x="69.4" y="324.8">7.095</text>
<text x="69.4" y="278.8">7.100</text>
<text x="69.4" y="232.8">7.105</text>
<text x="69.4" y="186.8">7.110</text>
<text x="69.4" y="140.8">7.115</text>
<text x="69.4" y="94.8">7.120</text>
</g>
<text transform="translate(328.4,49) scale(1,1.07)" font-size="16.67px" style="font-kerning:none" text-anchor="middle">Water Depth h at gauge 3</text>
</svg>
</body></html>
